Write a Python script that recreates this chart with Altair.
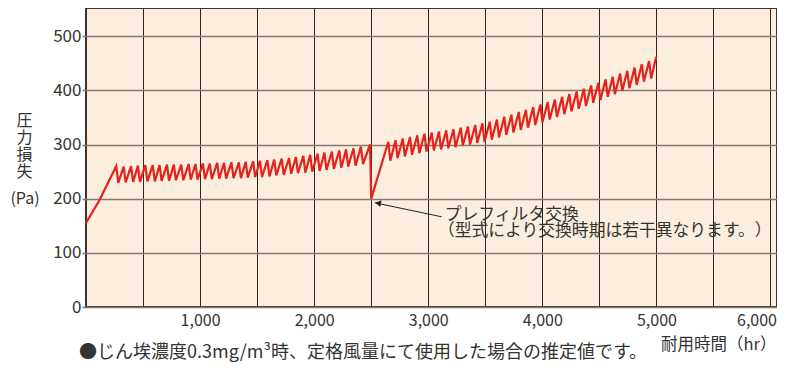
import altair as alt
import pandas as pd

# ---- data ----
hours = [0, 120, 265, 283, 330, 348, 395, 413, 455, 473, 520, 538, 585, 603, 645, 663,
         710, 728, 770, 788, 835, 853, 900, 918, 960, 978, 1025, 1043, 1085, 1103,
         1150, 1168, 1210, 1228, 1275, 1293, 1340, 1358, 1400, 1418, 1465, 1483,
         1525, 1543, 1590, 1608, 1650, 1668, 1715, 1733, 1780, 1798, 1840, 1858,
         1905, 1923, 1965, 1983, 2030, 2048, 2090, 2108, 2155, 2173, 2220, 2238,
         2280, 2298, 2345, 2363, 2410, 2428, 2490, 2500,
         2650, 2668, 2713, 2731, 2777, 2795, 2840, 2858, 2904, 2922, 2967, 2985,
         3031, 3049, 3094, 3112, 3158, 3176, 3221, 3239, 3285, 3303, 3348, 3366,
         3412, 3430, 3475, 3493, 3539, 3557, 3602, 3620, 3666, 3684, 3729, 3747,
         3793, 3811, 3856, 3874, 3920, 3938, 3983, 4001, 4047, 4065, 4110, 4128,
         4174, 4192, 4237, 4255, 4301, 4319, 4364, 4382, 4428, 4446, 4491, 4509,
         4555, 4573, 4618, 4636, 4682, 4700, 4745, 4763, 4809, 4827, 4872, 4890,
         4936, 4954, 4998]
pressure = [155, 198, 260, 229, 259, 230, 260, 231, 261, 231, 262, 232, 262, 232, 262, 233,
            263, 233, 263, 234, 263, 234, 264, 235, 264, 235, 265, 236, 265, 236,
            266, 237, 266, 237, 267, 238, 267, 238, 268, 239, 269, 240,
            270, 240, 271, 241, 272, 243, 274, 244, 275, 246, 277, 247,
            279, 248, 281, 250, 283, 251, 285, 253, 287, 255, 289, 257,
            291, 259, 293, 261, 296, 264, 300, 200,
            305, 270, 308, 275, 311, 278, 314, 281, 317, 284, 320, 287,
            322, 289, 324, 291, 326, 293, 328, 295, 331, 298, 333, 300,
            336, 303, 339, 305, 342, 309, 346, 313, 351, 318, 355, 322,
            360, 327, 364, 331, 369, 336, 374, 341, 378, 346, 383, 351,
            388, 356, 393, 361, 398, 366, 403, 371, 409, 377, 414, 382,
            420, 388, 425, 393, 431, 399, 436, 404, 442, 410, 448, 416,
            454, 422, 462]

x_grid = [500, 1000, 1500, 2000, 2500, 3000, 3500, 4000, 4500, 5000, 5500, 6000]
y_ticks = [0, 100, 200, 300, 400, 500]

note_lines = ["プレフィルタ交換", "（型式により交換時期は若干異なります。\u200b）"]
note_h = [3145, 3085]
note_p = [170, 140]

arrow_tail = (3116, 166.6)
arrow_tip = (2532, 192.4)
arrow_head = (2560, 191.6)

y_title = ["圧", "力", "損", "失"]
y_unit = "(Pa)"
x_title = "耐用時間（hr）"
footnote = "●じん埃濃度0.3mg/m³時、定格風量にて使用した場合の推定値です。"

# ---- tables ----
df = pd.DataFrame({"h": hours, "p": pressure, "o": list(range(len(hours)))})
notes = pd.DataFrame({"h": note_h, "p": note_p, "t": note_lines})
arrow = pd.DataFrame({"h": [arrow_tail[0]], "p": [arrow_tail[1]],
                      "h2": [arrow_tip[0]], "p2": [arrow_tip[1]]})
head = pd.DataFrame({"h": [arrow_head[0]], "p": [arrow_head[1]]})
foot = pd.DataFrame({"t": [footnote]})
unit = pd.DataFrame({"t": [y_unit]})

FONT = "Noto Sans CJK JP"
TXT = "#333333"
xs = alt.Scale(domain=[0, 6057], nice=False, zero=False)
ys = alt.Scale(domain=[0, 552], nice=False)

x_axis = alt.Axis(values=x_grid,
                  labelExpr="datum.value % 1000 === 0 ? format(datum.value, ',') : ''",
                  grid=True, gridColor="#2e2622", gridWidth=1, ticks=False, domain=False,
                  labelFont=FONT, labelFontSize=16, labelColor=TXT, labelPadding=5,
                  labelOffset={"condition": {"test": "datum.value === 6000", "value": -14},
                               "value": 0},
                  labelFlush=False, labelOverlap=False, labelBound=False,
                  title=x_title, titleFont=FONT, titleFontSize=16.5, titleFontWeight="normal",
                  titleColor=TXT, titleX=690, titleY=37, titleAlign="right",
                  titleBaseline="middle", titleAngle=0)
y_axis = alt.Axis(values=y_ticks, grid=True, gridColor="#857870", gridWidth=1.6,
                  ticks=True, tickSize=4, tickColor="#857870", tickWidth=1.6, domain=False,
                  labelFont=FONT, labelFontSize=17, labelColor=TXT, labelPadding=1,
                  labelFlush=False, labelOverlap=False,
                  title=y_title, titleFont=FONT, titleFontSize=16, titleFontWeight="normal",
                  titleColor=TXT, titleX=-62, titleY=104, titleAngle=0, titleAlign="center",
                  titleBaseline="top", titleLineHeight=17.3)

line = alt.Chart(df).mark_line(color="#E3231C", strokeWidth=2.2).encode(
    x=alt.X("h:Q", scale=xs, axis=x_axis),
    y=alt.Y("p:Q", scale=ys, axis=y_axis),
    order="o:Q",
)

rule = alt.Chart(arrow).mark_rule(color="#222222", strokeWidth=1).encode(
    x=alt.X("h:Q", scale=xs), y=alt.Y("p:Q", scale=ys),
    x2="h2:Q", y2="p2:Q",
)

tip = alt.Chart(head).mark_point(shape="triangle-left", filled=True, size=45, angle=12,
                                 color="#222222", opacity=1).encode(
    x=alt.X("h:Q", scale=xs), y=alt.Y("p:Q", scale=ys),
)

text = alt.Chart(notes).mark_text(align="left", baseline="middle", font=FONT, fontSize=16.8,
                                  color=TXT).encode(
    x=alt.X("h:Q", scale=xs), y=alt.Y("p:Q", scale=ys), text="t:N",
)

foot_text = alt.Chart(foot).mark_text(align="left", baseline="middle", font=FONT, fontSize=18,
                                      color=TXT).encode(
    x=alt.value(-7), y=alt.value(345), text="t:N",
)

unit_text = alt.Chart(unit).mark_text(align="center", baseline="middle", font=FONT,
                                      fontSize=16, color=TXT).encode(
    x=alt.value(-61), y=alt.value(191), text="t:N",
)

chart = alt.layer(line, rule, tip, text, foot_text, unit_text).properties(
    width=691, height=299,
    padding={"left": 78, "top": 0, "right": 0, "bottom": 56},
    autosize=alt.AutoSizeParams(type="none"),
).configure_view(fill="#FCEEDF", stroke="#3b3431", strokeWidth=2)

chart.save("out.html", embed_options={"renderer": "svg", "actions": False})
